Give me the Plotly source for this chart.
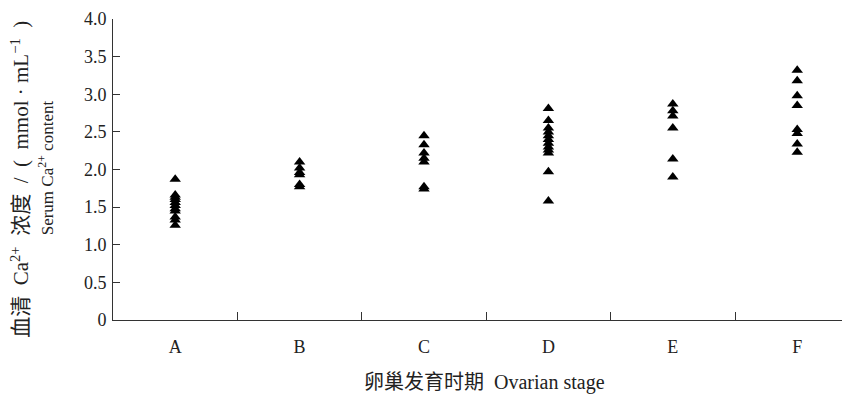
import plotly.graph_objects as go

stages = ["A", "B", "C", "D", "E", "F"]
vals_A = [1.87, 1.66, 1.63, 1.60, 1.56, 1.52, 1.48, 1.45, 1.37, 1.33, 1.26]
vals_B = [2.10, 2.02, 1.96, 1.93, 1.80, 1.77]
vals_C = [2.45, 2.33, 2.22, 2.15, 2.10, 1.77, 1.74]
vals_D = [2.81, 2.65, 2.55, 2.50, 2.45, 2.40, 2.35, 2.30, 2.26, 2.22, 1.97, 1.58]
vals_E = [2.87, 2.78, 2.71, 2.55, 2.14, 1.90]
vals_F = [3.32, 3.18, 2.98, 2.85, 2.53, 2.48, 2.34, 2.23]
series = [vals_A, vals_B, vals_C, vals_D, vals_E, vals_F]
y_ticks = [0, 0.5, 1.0, 1.5, 2.0, 2.5, 3.0, 3.5, 4.0]
y_ticktext = ["0", "0.5", "1.0", "1.5", "2.0", "2.5", "3.0", "3.5", "4.0"]

FONT = "Liberation Serif, Noto Sans CJK SC, serif"

xs, ys = [], []
for i, vals in enumerate(series):
    for v in vals:
        xs.append(i)
        ys.append(v)

fig = go.Figure()
fig.add_trace(go.Scatter(
    x=xs, y=ys, mode="markers",
    marker=dict(symbol="triangle-up", size=10, color="black", line=dict(width=0)),
    showlegend=False, hoverinfo="y",
))

fig.update_layout(
    width=851, height=402,
    margin=dict(l=113, r=9, t=16, b=82),
    paper_bgcolor="white", plot_bgcolor="white",
    font=dict(family=FONT, size=18, color="#222"),
    xaxis=dict(
        range=[-0.5, 5.36],
        tickmode="array",
        tickvals=list(range(len(stages))),
        ticktext=stages,
        ticks="",
        showgrid=False, zeroline=False,
        showline=True, linecolor="#333", linewidth=1,
        minor=dict(tickmode="array", tickvals=[0.5, 1.5, 2.5, 3.5, 4.5],
                   ticks="inside", ticklen=8, tickcolor="#333", tickwidth=1,
                   showgrid=False),
        tickfont=dict(family=FONT, size=18, color="#222"),
        ticklabelstandoff=10,
    ),
    yaxis=dict(
        range=[0, 4.0],
        tickmode="array",
        tickvals=y_ticks,
        ticktext=y_ticktext,
        ticks="inside", ticklen=7, tickcolor="#333", tickwidth=1,
        showgrid=False, zeroline=False,
        showline=True, linecolor="#333", linewidth=1,
        tickfont=dict(family=FONT, size=18, color="#222"),
        ticklabelstandoff=2,
    ),
    annotations=[
        dict(text="卵巢发育时期  Ovarian stage", xref="paper", yref="paper",
             x=0.509, y=-0.207, xanchor="center", yanchor="middle", showarrow=False,
             font=dict(family=FONT, size=20, color="#222")),
        dict(text="血清\u2002Ca<sup>2+</sup>\u2002浓度\u2002/\u2002(\u2002mmol · mL<sup>−1</sup>\u2002)",
             xref="paper", yref="paper", x=-0.128, y=0.468, xanchor="center",
             yanchor="middle", textangle=-90, showarrow=False,
             font=dict(family=FONT, size=21, color="#222")),
        dict(text="Serum Ca<sup>2+</sup> content",
             xref="paper", yref="paper", x=-0.092, y=0.507, xanchor="center",
             yanchor="middle", textangle=-90, showarrow=False,
             font=dict(family=FONT, size=17, color="#222")),
    ],
)

fig.write_html("out.html")
